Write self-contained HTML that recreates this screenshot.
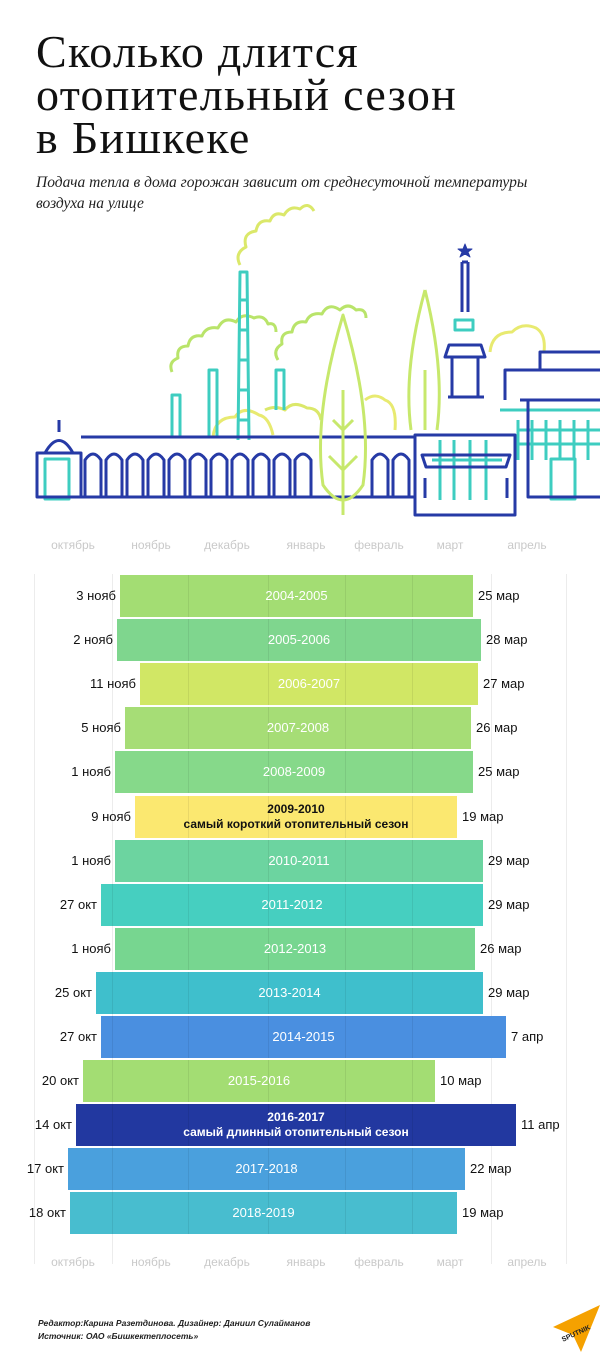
<!DOCTYPE html>
<html><head><meta charset="utf-8">
<style>
body{margin:0;background:#fff;}
#c{position:relative;width:600px;height:1352px;overflow:hidden;font-family:"Liberation Sans",sans-serif;}
h1{position:absolute;left:36px;top:30px;margin:0;font-family:"Liberation Serif",serif;font-weight:normal;font-size:46px;line-height:43px;color:#111;letter-spacing:1.3px}
.sub{position:absolute;left:36px;top:172px;font-family:"Liberation Serif",serif;font-style:italic;font-size:15.5px;line-height:21px;color:#222}
.m{position:absolute;font-size:12px;color:#c9c9c9;transform:translateX(-50%)}
.g{position:absolute;top:574px;height:690px;width:1px;background:#ececec}
.bar{position:absolute;height:42px;color:#fff;font-size:13px;text-align:center;line-height:42px}
.gl{position:absolute;top:0;bottom:0;width:1px;background:rgba(0,0,0,0.07)}
.l{position:absolute;font-size:13px;color:#111;line-height:42px}
.ft{position:absolute;left:38px;font-style:italic;font-size:8.5px;color:#222;font-weight:bold}
</style></head><body><div id="c">
<h1>Сколько длится<br>отопительный сезон<br>в Бишкеке</h1>
<div class="sub">Подача тепла в дома горожан зависит от среднесуточной температуры<br>воздуха на улице</div>
<svg style="position:absolute;left:0;top:180px" width="600" height="340" viewBox="0 180 600 340" fill="none" stroke-width="3" stroke-linejoin="round">
<g stroke="#dbe86a" stroke-width="3">
<path d="M240 265 q-6-12 6-18 q-4-14 10-16 q2-12 14-10 q4-10 14-6 q6-10 16-6 q8-8 14 2" />
<path d="M172 372 q-4-10 6-14 q-2-12 10-12 q2-12 14-10 q4-10 16-8 q6-12 18-6 q6-10 18-4 q10-4 14 6 q8-2 8 8" stroke="#b9e46a"/>
<path d="M278 360 q-6-10 4-16 q-2-12 10-12 q2-12 14-10 q4-10 16-8 q6-12 18-4 q8-8 16 0 q10-2 10 8" stroke="#b9e46a"/>
<path d="M265 410 q10-5 20 0 q8-10 22-2 q12 0 14 12" stroke="#dbe86a"/>
<path d="M213 437 q2-20 22-20 q8-12 24-2 q10 2 14 20" stroke="#e8ea70"/>
<path d="M490 352 q2-20 22-20 q10-10 24-4 q10 6 8 24" stroke="#e8ea70"/>
<path d="M365 400 q10-8 20 0 q12 4 10 30" stroke="#e8ea70"/>
</g>
<g stroke="#3ecdc0" stroke-width="3">
<path d="M238 440 L240 272 L247 272 L249 440 M239 300 h9 M239 330 h9 M239 360 h9 M239 390 h9 M239 420 h9"/>
<path d="M172 437 V395 h8 V437 M209 437 V370 h8 V437 M276 410 V370 h8 V410"/>
<rect x="45" y="459" width="24" height="40"/><rect x="551" y="459" width="24" height="40"/>
<path d="M455 320 h18 v10 h-18z M432 460 h70 M440 440 v60 M454 440 v60 M470 440 v60 M486 440 v60 M500 410 h100 M518 420 v40 M532 420 v40 M546 420 v40 M560 420 v40 M574 420 v40 M588 420 v40 M518 430 h82 M518 444 h82"/>
</g>
<g stroke="#263aa6" stroke-width="3">
<path d="M37 497 V453 h44 V497 z M45 453 q14-25 28 0 M59 420 v12 M81 437 H415 M81 497 H415"/>
<path d="M85 497 V460 q8-12 16 0 V497 M106 497 V460 q8-12 16 0 V497 M127 497 V460 q8-12 16 0 V497 M148 497 V460 q8-12 16 0 V497 M169 497 V460 q8-12 16 0 V497 M190 497 V460 q8-12 16 0 V497 M211 497 V460 q8-12 16 0 V497 M232 497 V460 q8-12 16 0 V497 M253 497 V460 q8-12 16 0 V497 M274 497 V460 q8-12 16 0 V497 M295 497 V460 q8-12 16 0 V497 M372 497 V460 q8-12 16 0 V497 M393 497 V460 q8-12 16 0 V497"/>
<path d="M415 515 V435 h100 V515 z M422 455 h88 l-4 12 h-80z M462 262 v50 M468 262 v50 M462 262 h6 M449 345 h32 l4 12 h-40z M452 357 v40 M478 357 v40 M448 397 h36 M505 400 V370 h95 M540 370 v-18 h60 M520 400 H600 M528 400 V497 h72 M425 478 v20 M507 478 v20"/>
<path d="M465 244 l2 5 5 0 -4 3 2 5 -5-3 -5 3 2-5 -4-3 5 0z" fill="#263aa6" stroke-width="1"/>
</g>
<g stroke="#c7e86c" stroke-width="3">
<path d="M343 315 q-30 100 -20 170 q20 30 40 0 q10-70 -20-170z M343 390 V515 M343 470 l-14-14 M343 470 l14-14 M343 430 l-10-10 M343 430 l10-10"/>
<path d="M425 290 q-22 80 -14 140 M425 290 q20 80 12 140 M425 370 v60"/>
</g>
</svg>
<div class="m" style="left:73px;top:538px">октябрь</div><div class="m" style="left:151px;top:538px">ноябрь</div><div class="m" style="left:227px;top:538px">декабрь</div><div class="m" style="left:306px;top:538px">январь</div><div class="m" style="left:379px;top:538px">февраль</div><div class="m" style="left:450px;top:538px">март</div><div class="m" style="left:527px;top:538px">апрель</div>
<div class="m" style="left:73px;top:1255px">октябрь</div><div class="m" style="left:151px;top:1255px">ноябрь</div><div class="m" style="left:227px;top:1255px">декабрь</div><div class="m" style="left:306px;top:1255px">январь</div><div class="m" style="left:379px;top:1255px">февраль</div><div class="m" style="left:450px;top:1255px">март</div><div class="m" style="left:527px;top:1255px">апрель</div>
<div class="g" style="left:34px"></div><div class="g" style="left:112px"></div><div class="g" style="left:491px"></div><div class="g" style="left:566px"></div>
<div id="bars"></div>
<div class="ft" style="top:1318px">Редактор:Карина Разетдинова. Дизайнер: Даниил Сулайманов</div>
<div class="ft" style="top:1331px">Источник: ОАО «Бишкектеплосеть»</div>
<svg style="position:absolute;left:553px;top:1305px" width="47" height="47"><path d="M47 0 L0 22 L20 30 L28 47z" fill="#f5a100"/><text x="8" y="32" font-size="7" font-weight="bold" fill="#222" transform="rotate(-25 20 30)" font-family="Liberation Sans">SPUTNIK</text></svg>
<script>
var d=[["2004-2005",120,473,"#a3dd73","3 нояб","25 мар"],["2005-2006",117,481,"#7fd68e","2 нояб","28 мар"],["2006-2007",140,478,"#d1e765","11 нояб","27 мар"],["2007-2008",125,471,"#a6dd76","5 нояб","26 мар"],["2008-2009",115,473,"#86d98a","1 нояб","25 мар"],["2009-2010",135,457,"#fbe870","9 нояб","19 мар"],["2010-2011",115,483,"#6cd4a0","1 нояб","29 мар"],["2011-2012",101,483,"#46cfc0","27 окт","29 мар"],["2012-2013",115,475,"#77d690","1 нояб","26 мар"],["2013-2014",96,483,"#3fbfcc","25 окт","29 мар"],["2014-2015",101,506,"#4a8fe0","27 окт","7 апр"],["2015-2016",83,435,"#a3dd73","20 окт","10 мар"],["2016-2017",76,516,"#2238a0","14 окт","11 апр"],["2017-2018",68,465,"#4aa0dd","17 окт","22 мар"],["2018-2019",70,457,"#48bdcf","18 окт","19 мар"]];
var h="",gx=[112,188,268,345,412];
d.forEach(function(r,i){var t=575+i*44.1;var inner=r[0];
if(i==5)inner='<div style="line-height:15px;padding-top:6px;color:#111;font-weight:bold;font-size:12px">2009-2010<br>самый короткий отопительный сезон</div>';
if(i==12)inner='<div style="line-height:15px;padding-top:6px;font-weight:bold;font-size:12px">2016-2017<br>самый длинный отопительный сезон</div>';
var gl="";gx.forEach(function(x){if(x>r[1]&&x<r[2])gl+='<div class="gl" style="left:'+(x-r[1])+'px"></div>'});
h+='<div class="bar" style="left:'+r[1]+'px;top:'+t+'px;width:'+(r[2]-r[1])+'px;background:'+r[3]+'">'+gl+'<span style="position:relative">'+inner+'</span></div>';
h+='<div class="l" style="right:'+(600-r[1]+4)+'px;top:'+t+'px">'+r[4]+'</div>';
h+='<div class="l" style="left:'+(r[2]+5)+'px;top:'+t+'px">'+r[5]+'</div>';});
document.getElementById("bars").innerHTML=h;
</script>
</div></body></html>
